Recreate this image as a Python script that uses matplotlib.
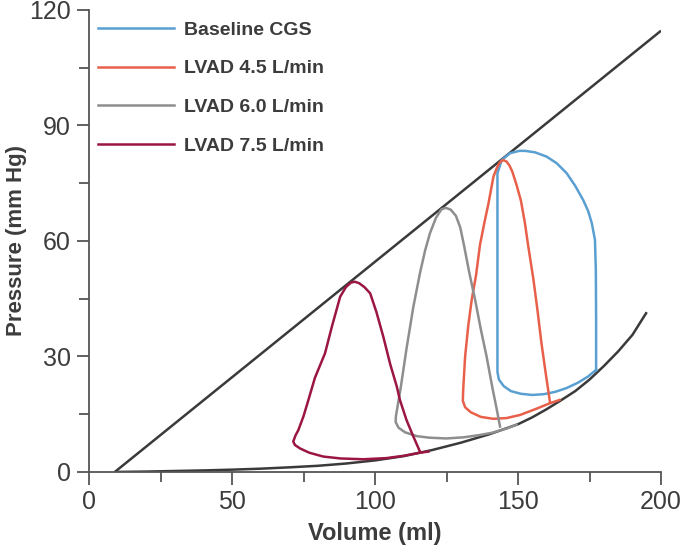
import matplotlib
matplotlib.use("Agg")
import matplotlib.pyplot as plt
from matplotlib.ticker import MultipleLocator

# ---------------- data ----------------
espvr_v = [9, 200]
espvr_p = [0, 114.6]

edpvr_v = [9, 20, 30, 40, 50, 60, 70, 80, 90, 100, 110, 120, 130, 140, 150,
           155, 160, 165, 170, 175, 180, 185, 190, 195]
edpvr_p = [0, 0.1, 0.25, 0.4, 0.6, 0.85, 1.2, 1.6, 2.2, 3.0, 4.1, 5.7, 7.6, 9.8, 12.4,
           14.2, 16.3, 18.6, 21.0, 24.0, 27.5, 31.3, 35.6, 41.5]

base_v = [177.3, 177.3, 177.2, 176.9, 175.8, 174.5, 172.8, 170, 167, 163.5, 160, 156,
          152.5, 150.5, 147.2, 144.3, 142.8, 142.8, 142.8, 143.3, 145, 147.5, 151, 155,
          159, 163, 167, 171, 174.5, 177.3]
base_p = [26.5, 40, 52.5, 60.3, 64.6, 67.8, 70.6, 74.3, 77.6, 80.2, 81.9, 83.0,
          83.4, 83.4, 82.8, 81, 77.6, 60, 26, 24, 22.3, 21, 20.3, 20,
          20.2, 20.8, 21.8, 23.2, 24.8, 26.5]

l45_v = [164.5, 161, 156, 150.7, 146, 141.4, 137, 133.5, 131.5, 130.7, 130.8, 131.5,
         132.6, 133.8, 135.3, 136.7, 138.3, 139.6, 141.4, 142.6, 143.7, 144.9, 146.0,
         147.0, 148, 149.5, 151, 152.4, 153.5, 155.4, 156.8, 158.2, 159.8, 161.2]
l45_p = [18.7, 17.8, 16.3, 14.8, 14.0, 13.8, 14.3, 15.5, 16.8, 18.5, 21, 30,
         38, 44.7, 51, 59, 65, 69.5, 76.7, 79.0, 80.5, 81, 80.6,
         79.6, 78.0, 74.5, 70.5, 64.7, 59, 49.9, 42, 33.4, 25, 18.0]

l60_v = [149.5, 146, 141, 136.7, 131, 125, 119, 114.6, 110.5, 108.2, 107.2, 107.3, 109,
         111, 113.4, 115.7, 117.5, 119.2, 121.3, 123.2, 124.8, 126.5, 128.3, 129.8,
         131.2, 133, 135, 137, 139, 141, 142.5, 143.7]
l60_p = [12.3, 11.3, 10.2, 9.6, 9.0, 8.7, 8.9, 9.3, 10.3, 11.5, 13.0, 14.5, 22,
         32, 42.9, 51.6, 57.5, 62, 66, 68.2, 68.6, 68.1, 66.5, 63.5,
         58.5, 51.6, 44.7, 37, 30, 22, 16.5, 11.8]

l75_v = [118.7, 115.7, 110, 104, 95.9, 88, 81.9, 77, 73.8, 72, 71.4, 72.2, 73.2, 75,
         76.7, 79, 82.5, 85, 87.8, 89.8, 91.6, 93, 94.5, 96.3, 98.3, 100.5, 102.9,
         105.3, 107.6, 108.7, 111, 113.4, 115.7]
l75_p = [5.3, 5.0, 4.2, 3.6, 3.3, 3.5, 4.0, 5.0, 6.1, 7.0, 7.9, 9.5, 10.9, 14.5,
         18.7, 24.5, 30.8, 38, 45.5, 48.0, 49.2, 49.4, 49.0, 48.0, 46.4, 41.5, 35.1,
         28, 22.2, 18.7, 13.5, 9.2, 5.3]

labels = ["Baseline CGS", "LVAD 4.5 L/min", "LVAD 6.0 L/min", "LVAD 7.5 L/min"]
colors = ["#5a9fd2", "#e8604a", "#8e8e8e", "#9b1640"]

x_ticks = [0, 50, 100, 150, 200]
y_ticks = [0, 30, 60, 90, 120]

# ---------------- style ----------------
plt.rcParams["font.family"] = ["Liberation Sans", "DejaVu Sans"]

text_c = "#3c3c3c"
axis_c = "#555555"

fig = plt.figure(figsize=(6.85, 5.52), dpi=100)
ax = fig.add_axes([0.130, 0.145, 0.835, 0.837])

ax.plot(espvr_v, espvr_p, color="#3a3a3a", lw=1.8, solid_capstyle="butt", zorder=2)
ax.plot(edpvr_v, edpvr_p, color="#3a3a3a", lw=1.8, solid_capstyle="butt", zorder=2)

series = [(base_v, base_p), (l45_v, l45_p), (l60_v, l60_p), (l75_v, l75_p)]
for (v, p), lab, c in zip(series, labels, colors):
    ax.plot(v, p, color=c, lw=1.8, label=lab, solid_joinstyle="round", zorder=3)

ax.set_xlim(0, 200)
ax.set_ylim(0, 120)
ax.set_xticks(x_ticks)
ax.set_yticks(y_ticks)
ax.xaxis.set_minor_locator(MultipleLocator(25))
ax.yaxis.set_minor_locator(MultipleLocator(15))

for s in ["top", "right"]:
    ax.spines[s].set_visible(False)
for s in ["left", "bottom"]:
    ax.spines[s].set_color(axis_c)
    ax.spines[s].set_linewidth(1.3)

ax.tick_params(which="major", length=9, width=1.3, color=axis_c, labelsize=18,
               labelcolor=text_c, pad=4)
ax.tick_params(which="minor", length=7, width=1.3, color=axis_c)

ax.set_xlabel("Volume (ml)", fontsize=17, color=text_c, fontweight="bold", labelpad=6)
ax.set_ylabel("Pressure (mm Hg)", fontsize=16, color=text_c, fontweight="bold")
ax.yaxis.set_label_coords(-0.108, 0.5)

leg = ax.legend(loc="upper left", bbox_to_anchor=(-0.008, 1.005), frameon=False,
                fontsize=14, handlelength=3.9, handletextpad=0.5, labelspacing=1.08,
                borderaxespad=0.3)
for t in leg.get_texts():
    t.set_color(text_c)
    t.set_fontweight("bold")

fig.savefig("out.png", dpi=100)
